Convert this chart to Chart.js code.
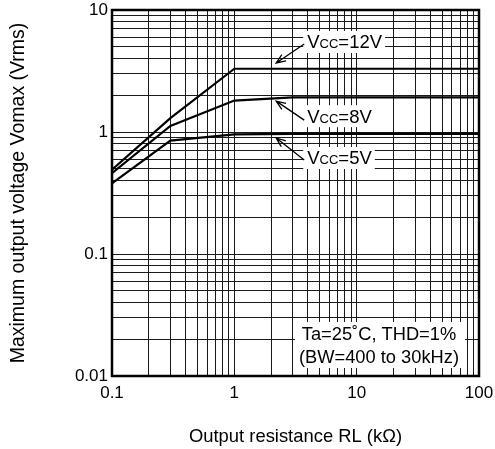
<!DOCTYPE html>
<html>
<head>
<meta charset="utf-8">
<script src="https://cdn.jsdelivr.net/npm/chart.js@4.4.1/dist/chart.umd.min.js"></script>
<style>
  html, body { margin: 0; padding: 0; background: #fff; }
  #wrap { width: 495px; height: 449px; position: relative; }
</style>
</head>
<body>
<div id="wrap"><canvas id="vomaxChart"></canvas></div>
<script>
// Output resistance RL (kOhm) vs max output voltage (Vrms)
const rl12 = [0.1, 0.3, 1, 100];
const vo12 = [0.49, 1.3, 3.3, 3.3];
const rl8 = [0.1, 0.3, 1, 3, 100];
const vo8 = [0.46, 1.12, 1.81, 1.92, 1.92];
const rl5 = [0.1, 0.3, 1, 3, 100];
const vo5 = [0.38, 0.85, 0.955, 0.965, 0.965];

const xDecades = [0.1, 1, 10, 100];
const xTickLabels = ["0.1", "1", "10", "100"];
const yDecades = [0.01, 0.1, 1, 10];
const yTickLabels = ["0.01", "0.1", "1", "10"];

// curve labels: V + small "CC" + rest, and where the arrows point
const vccParts = [["V", "CC", "=12V"], ["V", "CC", "=8V"], ["V", "CC", "=5V"]];
const arrowRL = [2.2, 2.2, 2.2];
const arrowVo = [3.68, 1.79, 0.893];
const noteLines = ["Ta=25˚C, THD=1%", "(BW=400 to 30kHz)"];

const FONT = "'Liberation Sans', Arial, sans-serif";

function logGrid(decades, labels) {
  const out = [];
  decades.forEach((d, i) => {
    if (i === decades.length - 1) {
      out.push({ value: d, label: labels[i] });
      return;
    }
    for (let k = 1; k <= 9; k++) {
      out.push({ value: d * k, label: k === 1 ? labels[i] : "" });
    }
  });
  return out;
}
const xGrid = logGrid(xDecades, xTickLabels);
const yGrid = logGrid(yDecades, yTickLabels);

function pts(xs, ys) {
  return xs.map((x, i) => ({ x: x, y: ys[i] }));
}

const annotate = {
  id: "annotate",
  afterDatasetsDraw(chart) {
    const { ctx, chartArea: a, scales: { x, y } } = chart;
    ctx.save();
    ctx.strokeStyle = "#000";
    ctx.fillStyle = "#000";

    const labelDy = [-21, 15, 20];
    const startDy = [-19, 19, 22];
    vccParts.forEach((parts, i) => {
      const tx = x.getPixelForValue(arrowRL[i]);
      const ty = y.getPixelForValue(arrowVo[i]);
      const left = tx + 31;
      const mid = ty + labelDy[i];
      const base = mid + 6.5;
      ctx.font = "18.5px " + FONT;
      const w0 = ctx.measureText(parts[0]).width;
      const w2 = ctx.measureText(parts[2]).width;
      ctx.font = "13px " + FONT;
      const w1 = ctx.measureText(parts[1]).width;
      ctx.fillStyle = "#fff";
      ctx.fillRect(left - 4, mid - 11, w0 + w1 + w2 + 7, 22);
      ctx.fillStyle = "#000";
      ctx.textBaseline = "alphabetic";
      ctx.textAlign = "left";
      ctx.font = "18.5px " + FONT;
      ctx.fillText(parts[0], left, base);
      ctx.font = "13px " + FONT;
      ctx.fillText(parts[1], left + w0, base);
      ctx.font = "18.5px " + FONT;
      ctx.fillText(parts[2], left + w0 + w1, base);

      // arrow
      const sx = tx + 28, sy = ty + startDy[i];
      const ang = Math.atan2(sy - ty, sx - tx);
      ctx.lineWidth = 1.3;
      ctx.beginPath();
      ctx.moveTo(sx, sy);
      ctx.lineTo(tx, ty);
      ctx.moveTo(tx + 10 * Math.cos(ang + 0.38), ty + 10 * Math.sin(ang + 0.38));
      ctx.lineTo(tx, ty);
      ctx.lineTo(tx + 10 * Math.cos(ang - 0.38), ty + 10 * Math.sin(ang - 0.38));
      ctx.stroke();
    });

    // conditions note, lower right
    ctx.fillStyle = "#fff";
    ctx.fillRect(a.right - 184, a.bottom - 54, 170, 46);
    ctx.fillStyle = "#000";
    ctx.font = "18.3px " + FONT;
    ctx.textAlign = "center";
    ctx.textBaseline = "middle";
    ctx.fillText(noteLines[0], a.right - 100, a.bottom - 41);
    ctx.fillText(noteLines[1], a.right - 100, a.bottom - 18);

    // heavy frame
    ctx.lineWidth = 2.5;
    ctx.strokeRect(a.left, a.top, a.right - a.left, a.bottom - a.top);
    ctx.restore();
  },
};

const ctx = document.getElementById("vomaxChart").getContext("2d");
const vomaxChart = new Chart(ctx, {
  type: "line",
  data: {
    datasets: [
      { label: "Vcc=12V", data: pts(rl12, vo12) },
      { label: "Vcc=8V", data: pts(rl8, vo8) },
      { label: "Vcc=5V", data: pts(rl5, vo5) },
    ],
  },
  options: {
    responsive: true,
    maintainAspectRatio: false,
    animation: false,
    events: [],
    layout: { padding: { top: 10, right: 16, left: 0, bottom: 0 } },
    elements: {
      line: { borderColor: "#000", borderWidth: 2.2, tension: 0, fill: false },
      point: { radius: 0 },
    },
    plugins: { legend: { display: false }, tooltip: { enabled: false } },
    scales: {
      x: {
        type: "logarithmic",
        min: 0.1,
        max: 100,
        afterBuildTicks: (s) => { s.ticks = xGrid.map((t) => ({ value: t.value })); },
        afterFit: (s) => { s.height = 73; s.paddingLeft = 0; s.paddingRight = 0; },
        grid: { color: "#1a1a1a", lineWidth: 1, drawTicks: false },
        border: { display: false },
        ticks: {
          autoSkip: false,
          maxRotation: 0,
          padding: 7,
          color: "#000",
          font: { family: FONT, size: 17 },
          callback: (v, i) => xGrid[i].label,
        },
        title: {
          display: true,
          text: "Output resistance RL (kΩ)",
          color: "#000",
          font: { family: FONT, size: 18.4 },
          padding: { top: 0, bottom: 1 },
        },
      },
      y: {
        type: "logarithmic",
        min: 0.01,
        max: 10,
        afterBuildTicks: (s) => { s.ticks = yGrid.map((t) => ({ value: t.value })); },
        afterFit: (s) => { s.width = 112; s.paddingTop = 0; s.paddingBottom = 0; },
        grid: { color: "#1a1a1a", lineWidth: 1, drawTicks: false },
        border: { display: false },
        ticks: {
          autoSkip: false,
          padding: 4,
          color: "#000",
          font: { family: FONT, size: 17 },
          callback: (v, i) => yGrid[i].label,
        },
        title: {
          display: true,
          text: "Maximum output voltage Vomax (Vrms)",
          color: "#000",
          font: { family: FONT, size: 19.5 },
          padding: { top: 7, bottom: 0 },
        },
      },
    },
  },
  plugins: [annotate],
});
</script>
</body>
</html>
